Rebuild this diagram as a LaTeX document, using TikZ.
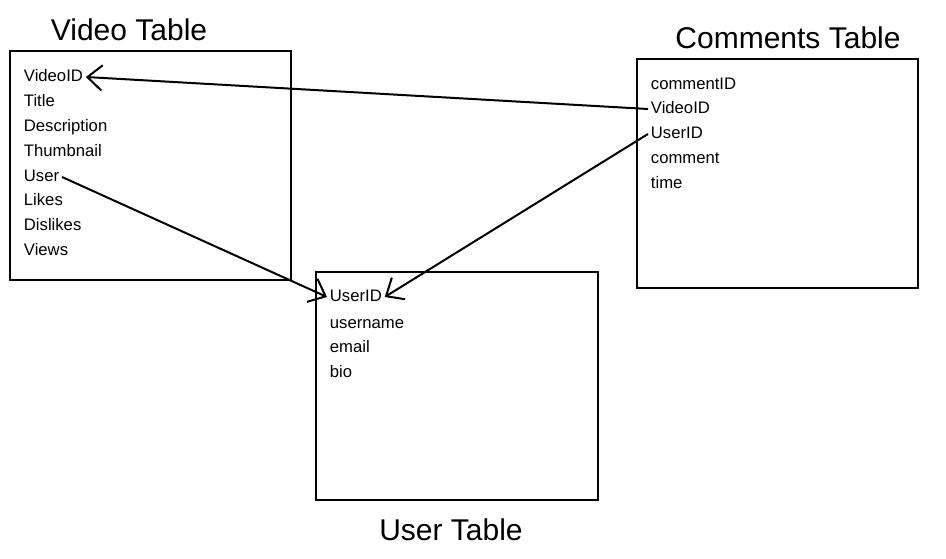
\documentclass[tikz,border=0pt]{standalone}
\usepackage{fontspec}
\setmainfont{Liberation Sans}
\usetikzlibrary{arrows.meta}

\begin{document}
\begin{tikzpicture}[x=0.75pt,y=-0.75pt,
    tablebox/.style={draw,line width=1.5pt,inner sep=0pt},
    title/.style={font=\fontsize{22.5}{26}\selectfont},
    row/.style={anchor=west,inner sep=2pt,text height=1.6ex,text depth=0.4ex,
        font=\fontsize{12.5}{15}\selectfont},
    link/.style={line width=1.5pt,-{Straight Barb[length=11pt,width=19pt,line width=1.5pt]}}]
    \useasboundingbox (0,0) rectangle (946,559);

    % tables
    \node[tablebox,minimum width=210.75pt,minimum height=171.75pt] (video) at (150.5,165.5) {};
    \node[tablebox,minimum width=210.75pt,minimum height=171.75pt] (comments) at (777.5,173.5) {};
    \node[tablebox,minimum width=211.5pt,minimum height=171pt] (user) at (457,386) {};

    \node[title] (videotitle) at (129,30) {Video Table};
    \node[title] (commentstitle) at (788,38) {Comments Table};
    \node[title] (usertitle) at (451,530) {User Table};

    % video table
    \node[row] (v-videoid) at (21,77) {VideoID};
    \node[row] (v-title) at (21,102) {Title};
    \node[row] (v-desc) at (21,127) {Description};
    \node[row] (v-thumb) at (21,152) {Thumbnail};
    \node[row] (v-user) at (21,177) {User};
    \node[row] (v-likes) at (21,201) {Likes};
    \node[row] (v-dislikes) at (21,226) {Dislikes};
    \node[row] (v-views) at (21,251) {Views};

    % comments table
    \node[row] (c-commentid) at (648,85) {commentID};
    \node[row] (c-videoid) at (648,109) {VideoID};
    \node[row] (c-userid) at (648,134) {UserID};
    \node[row] (c-comment) at (648,159) {comment};
    \node[row] (c-time) at (648,184) {time};

    % user table
    \node[row] (u-userid) at (327,297) {UserID};
    \node[row] (u-username) at (327,324) {username};
    \node[row] (u-email) at (327,348) {email};
    \node[row] (u-bio) at (327,373) {bio};

    \draw[link] (c-videoid.west) -- (v-videoid.east);
    \draw[link] (c-userid.west) -- (u-userid.east);
    \draw[link] (v-user.east) -- (u-userid.west);
\end{tikzpicture}
\end{document}
